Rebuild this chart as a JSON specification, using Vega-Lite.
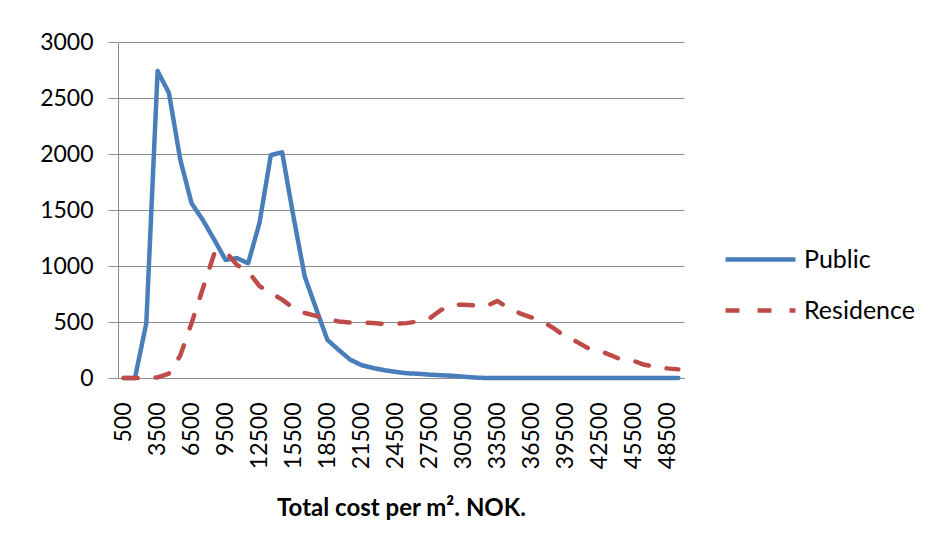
{
  "$schema": "https://vega.github.io/schema/vega-lite/v6.json",
  "width": 566,
  "height": 336,
  "autosize": {"type": "none"},
  "padding": {"left": 118, "top": 42, "right": 244, "bottom": 172},
  "background": "white",
  "config": {
    "view": {"stroke": null},
    "font": "Lato",
    "legend": {
      "orient": "none",
      "legendX": 605,
      "legendY": 180,
      "padding": 0,
      "symbolType": "stroke",
      "symbolSize": 4900,
      "symbolStrokeWidth": 4.5,
      "labelFontSize": 25,
      "labelFont": "Lato",
      "labelColor": "black",
      "labelOffset": 6,
      "rowPadding": -26
    }
  },
  "data": {
    "values": [
      {"cost": 500, "Public": 0, "Residence": 0},
      {"cost": 1500, "Public": 0, "Residence": 0},
      {"cost": 2500, "Public": 490, "Residence": 0},
      {"cost": 3500, "Public": 2740, "Residence": 5},
      {"cost": 4500, "Public": 2545, "Residence": 40},
      {"cost": 5500, "Public": 1950, "Residence": 200},
      {"cost": 6500, "Public": 1560, "Residence": 490},
      {"cost": 7500, "Public": 1410, "Residence": 800},
      {"cost": 8500, "Public": 1235, "Residence": 1110},
      {"cost": 9500, "Public": 1055, "Residence": 1130},
      {"cost": 10500, "Public": 1070, "Residence": 1010},
      {"cost": 11500, "Public": 1025, "Residence": 950},
      {"cost": 12500, "Public": 1385, "Residence": 820},
      {"cost": 13500, "Public": 1990, "Residence": 760},
      {"cost": 14500, "Public": 2015, "Residence": 700},
      {"cost": 15500, "Public": 1440, "Residence": 625},
      {"cost": 16500, "Public": 905, "Residence": 580},
      {"cost": 17500, "Public": 620, "Residence": 555},
      {"cost": 18500, "Public": 340, "Residence": 525},
      {"cost": 19500, "Public": 250, "Residence": 505},
      {"cost": 20500, "Public": 165, "Residence": 495},
      {"cost": 21500, "Public": 115, "Residence": 495},
      {"cost": 22500, "Public": 90, "Residence": 490},
      {"cost": 23500, "Public": 70, "Residence": 483},
      {"cost": 24500, "Public": 55, "Residence": 483},
      {"cost": 25500, "Public": 42, "Residence": 490},
      {"cost": 26500, "Public": 38, "Residence": 505},
      {"cost": 27500, "Public": 30, "Residence": 530},
      {"cost": 28500, "Public": 25, "Residence": 605},
      {"cost": 29500, "Public": 20, "Residence": 655},
      {"cost": 30500, "Public": 12, "Residence": 655},
      {"cost": 31500, "Public": 4, "Residence": 648},
      {"cost": 32500, "Public": 0, "Residence": 640},
      {"cost": 33500, "Public": 0, "Residence": 688},
      {"cost": 34500, "Public": 0, "Residence": 625},
      {"cost": 35500, "Public": 0, "Residence": 578},
      {"cost": 36500, "Public": 0, "Residence": 542},
      {"cost": 37500, "Public": 0, "Residence": 503},
      {"cost": 38500, "Public": 0, "Residence": 444},
      {"cost": 39500, "Public": 0, "Residence": 370},
      {"cost": 40500, "Public": 0, "Residence": 325},
      {"cost": 41500, "Public": 0, "Residence": 268},
      {"cost": 42500, "Public": 0, "Residence": 245},
      {"cost": 43500, "Public": 0, "Residence": 205},
      {"cost": 44500, "Public": 0, "Residence": 162},
      {"cost": 45500, "Public": 0, "Residence": 155},
      {"cost": 46500, "Public": 0, "Residence": 118},
      {"cost": 47500, "Public": 0, "Residence": 100},
      {"cost": 48500, "Public": 0, "Residence": 86},
      {"cost": 49500, "Public": 0, "Residence": 77}
    ]
  },
  "transform": [{"fold": ["Public", "Residence"], "as": ["series", "value"]}],
  "mark": {"type": "line", "strokeWidth": 4.5, "strokeCap": "round", "strokeJoin": "round"},
  "encoding": {
    "x": {
      "field": "cost",
      "type": "ordinal",
      "sort": "ascending",
      "scale": {"type": "point", "padding": 0.5},
      "axis": {
        "values": [500, 3500, 6500, 9500, 12500, 15500, 18500, 21500, 24500, 27500, 30500, 33500, 36500, 39500, 42500, 45500, 48500],
        "labelAngle": -90,
        "labelFontSize": 23,
        "labelFont": "Lato",
        "labelColor": "black",
        "labelOverlap": false,
        "ticks": false,
        "tickSize": 0,
        "labelPadding": 24,
        "domainColor": "#8c8c8c",
        "domainWidth": 1,
        "grid": false,
        "title": "Total cost per m². NOK.",
        "titleFont": "Lato",
        "titleFontSize": 24,
        "titleFontWeight": "bold",
        "titleColor": "black",
        "titlePadding": 28
      }
    },
    "y": {
      "field": "value",
      "type": "quantitative",
      "scale": {"domain": [0, 3000], "nice": false},
      "axis": {
        "values": [0, 500, 1000, 1500, 2000, 2500, 3000],
        "format": "d",
        "title": null,
        "labelFontSize": 23,
        "labelFont": "Lato",
        "labelColor": "black",
        "labelPadding": 15,
        "tickSize": 10,
        "tickColor": "#8c8c8c",
        "domainColor": "#8c8c8c",
        "gridColor": "#8c8c8c",
        "gridWidth": 1
      }
    },
    "color": {
      "field": "series",
      "type": "nominal",
      "scale": {"domain": ["Public", "Residence"], "range": ["#4A7EBB", "#BE4B48"]},
      "legend": {"title": null}
    },
    "strokeDash": {
      "field": "series",
      "type": "nominal",
      "scale": {"domain": ["Public", "Residence"], "range": [[1, 0], [14, 18]]},
      "legend": {"title": null}
    }
  }
}
